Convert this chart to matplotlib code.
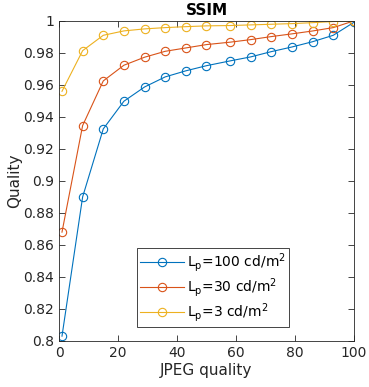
import matplotlib
matplotlib.use('Agg')
import matplotlib.pyplot as plt

# dati
jpeg_q = [1, 8, 15, 22, 29, 36, 43, 50, 58, 65, 72, 79, 86, 93, 100]
ssim_100 = [0.803, 0.890, 0.9325, 0.9498, 0.9587, 0.965, 0.9688, 0.972,
            0.975, 0.9775, 0.9808, 0.9837, 0.987, 0.991, 0.9991]
ssim_30 = [0.868, 0.9346, 0.9625, 0.9723, 0.9773, 0.981, 0.9831, 0.9852,
           0.9867, 0.9883, 0.9902, 0.9919, 0.9937, 0.9958, 1.0]
ssim_3 = [0.956, 0.9814, 0.991, 0.99375, 0.995, 0.9958, 0.9964, 0.9969,
          0.9971, 0.9975, 0.9979, 0.9983, 0.9989, 0.9996, 1.0]
labels = [r'L$_\mathrm{p}$=100 cd/m$^2$', r'L$_\mathrm{p}$=30 cd/m$^2$', r'L$_\mathrm{p}$=3 cd/m$^2$']
colors = ['#0072BD', '#D95319', '#EDB120']

f_ticks = 10
f_assi = 11

fig = plt.figure(figsize=(3.69, 3.87), dpi=100)
ax = fig.add_axes([0.16, 0.119, 0.799, 0.827])

for y, lab, c in zip([ssim_100, ssim_30, ssim_3], labels, colors):
    ax.plot(jpeg_q, y, '-o', color=c, lw=0.8, markersize=6,
            markerfacecolor='none', markeredgewidth=0.8, label=lab)

ax.set_xlim(0, 100)
ax.set_ylim(0.8, 1.0)
ax.set_xticks([0, 20, 40, 60, 80, 100])
ax.set_yticks([0.8, 0.82, 0.84, 0.86, 0.88, 0.9, 0.92, 0.94, 0.96, 0.98, 1.0])
ax.set_yticklabels(['0.8', '0.82', '0.84', '0.86', '0.88', '0.9', '0.92',
                    '0.94', '0.96', '0.98', '1'])
ax.tick_params(direction='in', top=True, right=True, labelsize=f_ticks,
               colors='#262626', length=4, width=0.6)
for s in ax.spines.values():
    s.set_linewidth(0.6)
    s.set_color('#262626')

ax.set_xlabel('JPEG quality', fontsize=f_assi, color='#262626', labelpad=2)
ax.set_ylabel('Quality', fontsize=f_assi, color='#262626', labelpad=1)
ax.set_title('SSIM', fontsize=f_assi, fontweight='bold', pad=4)

leg = ax.legend(loc='lower left', bbox_to_anchor=(0.264, 0.045), fontsize=f_ticks,
                fancybox=False, edgecolor='#262626', framealpha=1,
                handlelength=3.2, borderpad=0.2, labelspacing=0.15, handletextpad=0.2,
                borderaxespad=0)
leg.get_frame().set_linewidth(0.6)

plt.savefig('out.png', dpi=100)
